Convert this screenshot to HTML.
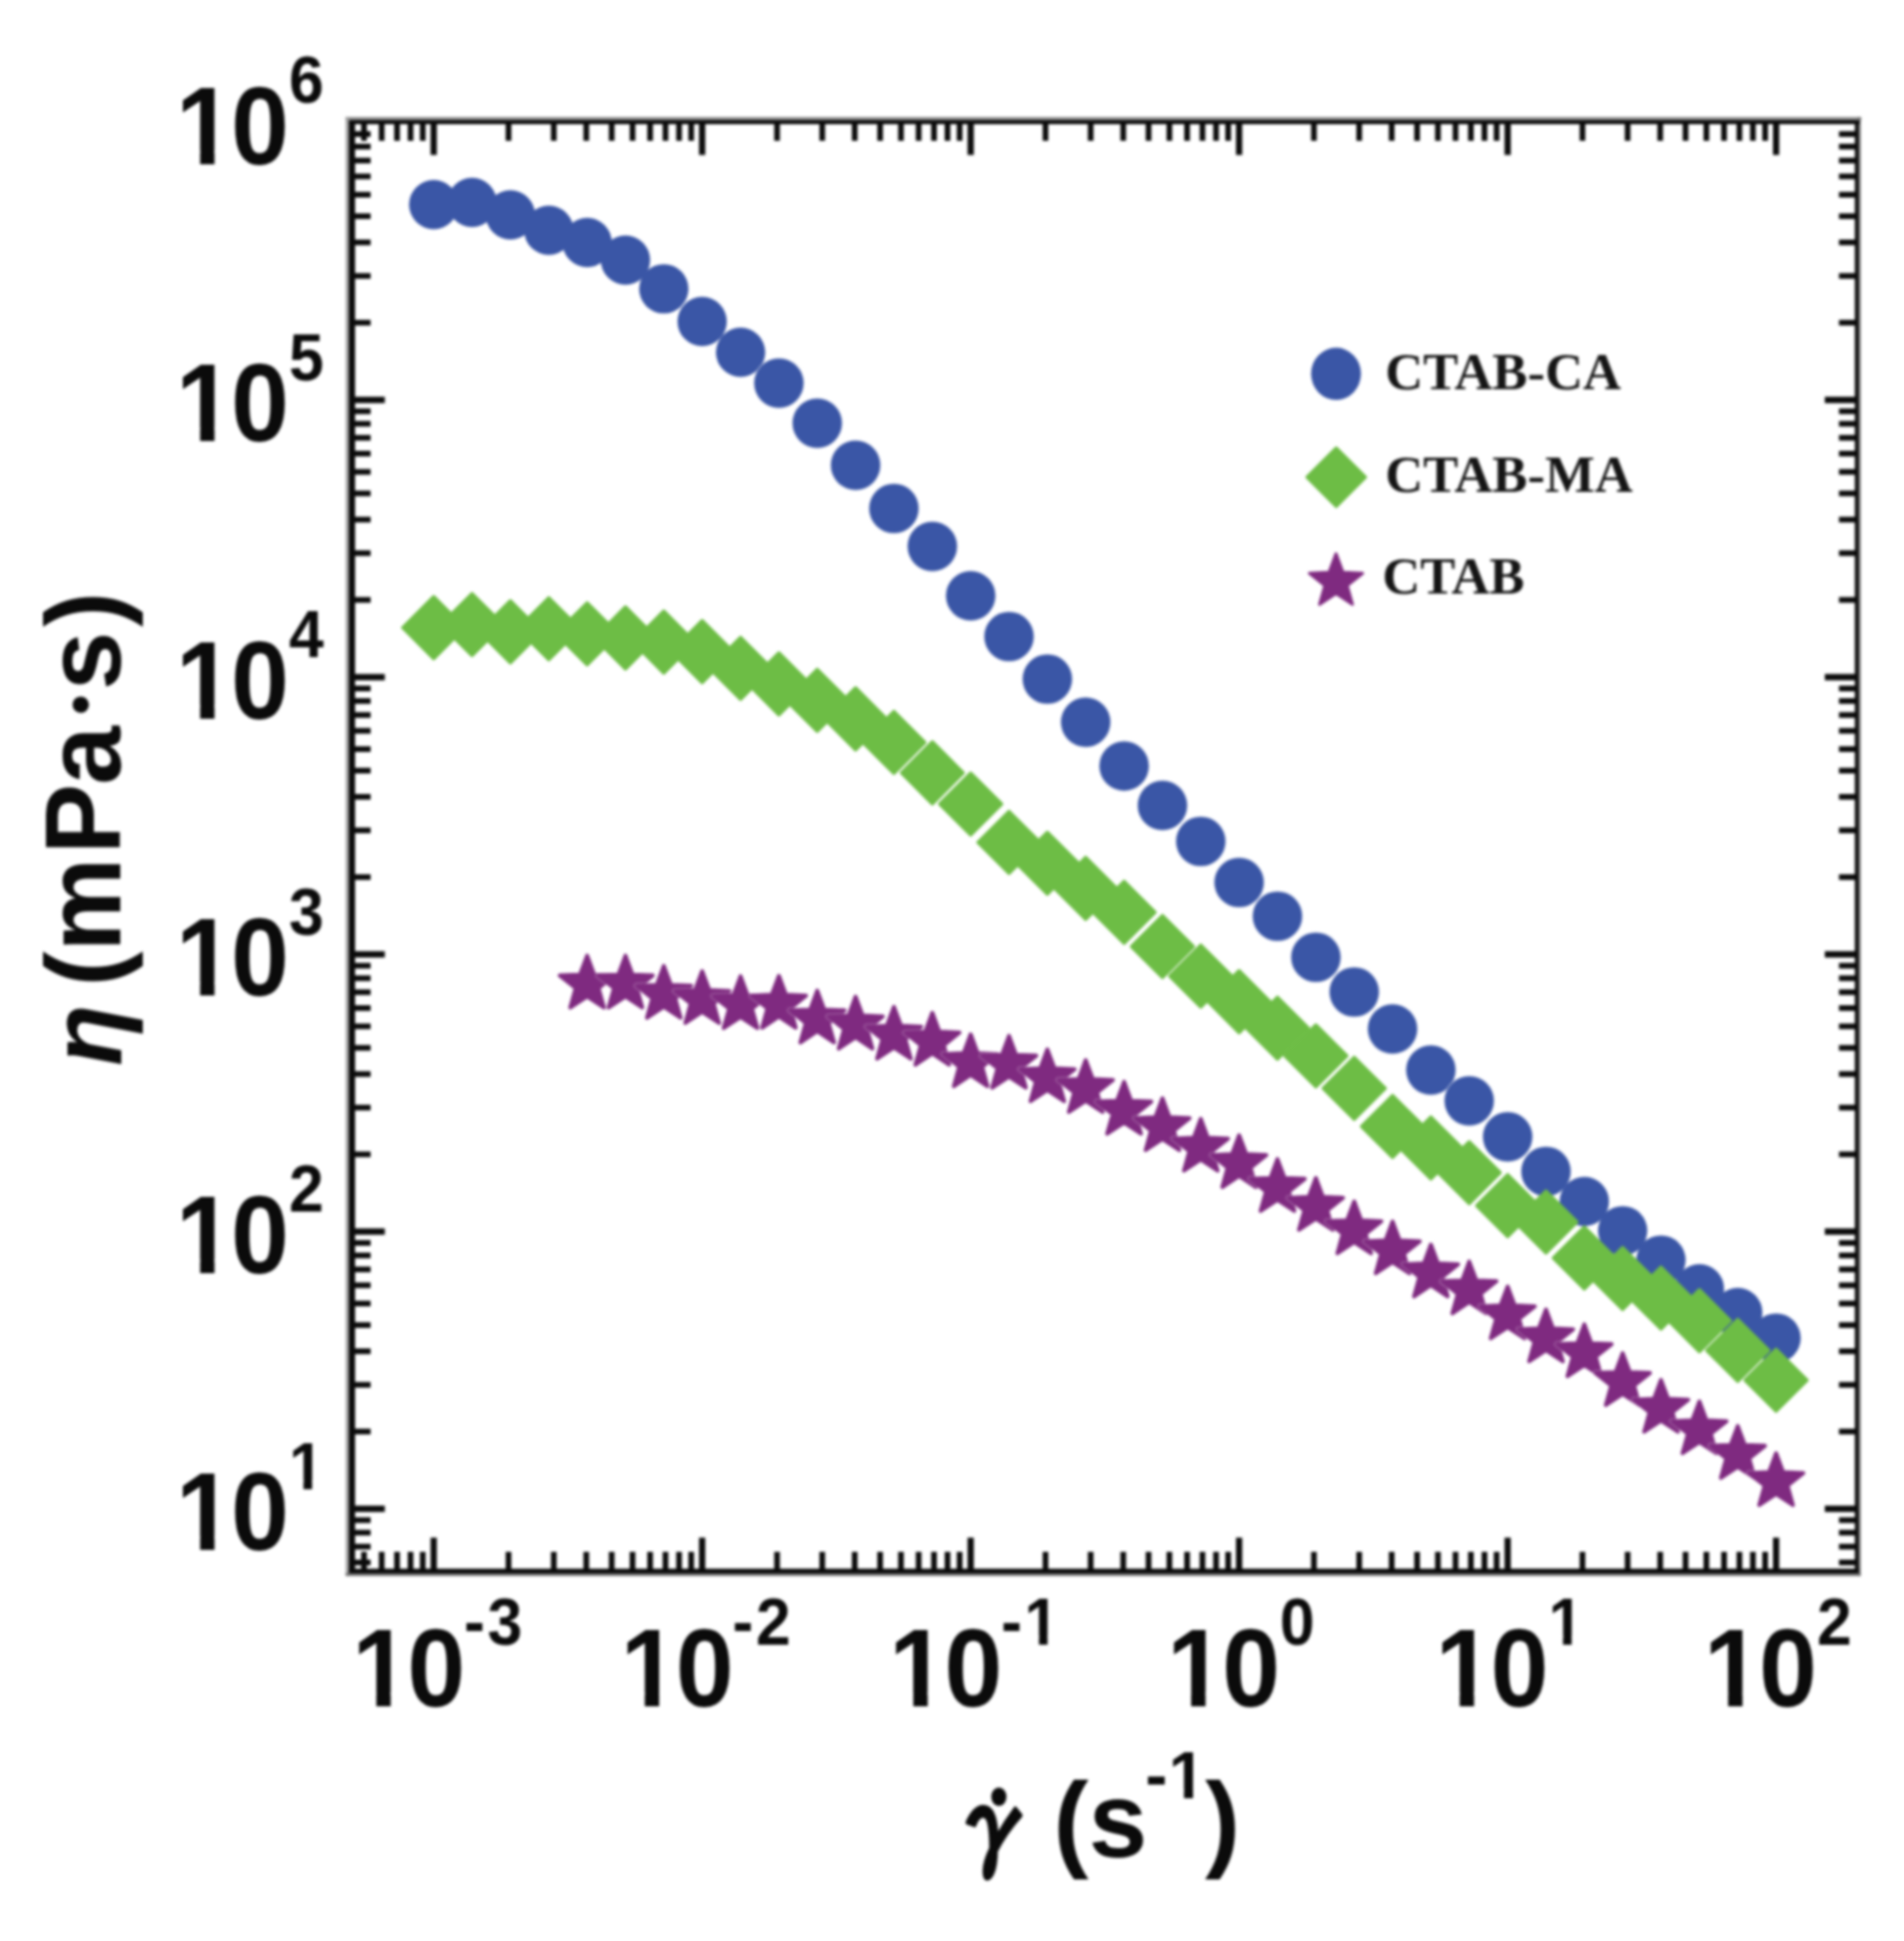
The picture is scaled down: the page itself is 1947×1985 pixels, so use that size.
<!DOCTYPE html>
<html lang="en"><head><meta charset="utf-8">
<title>Viscosity vs shear rate</title>
<style>
html,body{margin:0;padding:0;background:#fff;}
body{width:1947px;height:1985px;overflow:hidden;}
svg{display:block;}
.tk{font-family:"Liberation Sans",Arial,Helvetica,sans-serif;font-weight:bold;fill:#0b0b0b;}
.it{font-style:italic;}
.dt{font-family:"Liberation Serif","Times New Roman",serif;font-weight:bold;font-style:normal;fill:#0b0b0b;}
.gm{font-family:"IPAGothic","Liberation Sans",sans-serif;fill:#0b0b0b;stroke:#0b0b0b;stroke-linejoin:round;}
.lg{font-family:"Liberation Serif","Times New Roman",Times,serif;font-weight:bold;fill:#151515;}
</style></head><body>
<svg width="1947" height="1985" viewBox="0 0 1947 1985">
<defs>
<filter id="soft" x="-2%" y="-2%" width="104%" height="104%" color-interpolation-filters="sRGB"><feGaussianBlur stdDeviation="1.7"/></filter>
</defs>
<rect width="1947" height="1985" fill="#fff"/>
<g filter="url(#soft)">
<g fill="none" stroke-linecap="butt">
<line x1="353.5" y1="121.4" x2="1903.3" y2="121.4" stroke="#858585" stroke-width="3.4"/>
<line x1="355.2" y1="119.8" x2="355.2" y2="1611.5" stroke="#a0a0a0" stroke-width="3.3"/>
<line x1="1901.4" y1="119.8" x2="1901.4" y2="1611.5" stroke="#707070" stroke-width="2.6"/>
<line x1="353.5" y1="1610.2" x2="1902.7" y2="1610.2" stroke="#707070" stroke-width="3.0"/>
</g>
<g stroke="#0b0b0b" stroke-linecap="butt" fill="none">
<line x1="372.2" y1="1606.0" x2="372.2" y2="1587.0" stroke-width="5.8"/>
<line x1="372.2" y1="125.0" x2="372.2" y2="144.0" stroke-width="5.8"/>
<line x1="390.3" y1="1606.0" x2="390.3" y2="1587.0" stroke-width="5.8"/>
<line x1="390.3" y1="125.0" x2="390.3" y2="144.0" stroke-width="5.8"/>
<line x1="406.0" y1="1606.0" x2="406.0" y2="1587.0" stroke-width="5.8"/>
<line x1="406.0" y1="125.0" x2="406.0" y2="144.0" stroke-width="5.8"/>
<line x1="419.8" y1="1606.0" x2="419.8" y2="1587.0" stroke-width="5.8"/>
<line x1="419.8" y1="125.0" x2="419.8" y2="144.0" stroke-width="5.8"/>
<line x1="432.3" y1="1606.0" x2="432.3" y2="1587.0" stroke-width="5.8"/>
<line x1="432.3" y1="125.0" x2="432.3" y2="144.0" stroke-width="5.8"/>
<line x1="443.5" y1="1606.0" x2="443.5" y2="1572.5" stroke-width="6.4"/>
<line x1="443.5" y1="125.0" x2="443.5" y2="158.5" stroke-width="6.4"/>
<line x1="520.0" y1="1606.0" x2="520.0" y2="1587.0" stroke-width="5.8"/>
<line x1="520.0" y1="125.0" x2="520.0" y2="144.0" stroke-width="5.8"/>
<line x1="566.3" y1="1606.0" x2="566.3" y2="1587.0" stroke-width="5.8"/>
<line x1="566.3" y1="125.0" x2="566.3" y2="144.0" stroke-width="5.8"/>
<line x1="599.5" y1="1606.0" x2="599.5" y2="1587.0" stroke-width="5.8"/>
<line x1="599.5" y1="125.0" x2="599.5" y2="144.0" stroke-width="5.8"/>
<line x1="625.5" y1="1606.0" x2="625.5" y2="1587.0" stroke-width="5.8"/>
<line x1="625.5" y1="125.0" x2="625.5" y2="144.0" stroke-width="5.8"/>
<line x1="646.8" y1="1606.0" x2="646.8" y2="1587.0" stroke-width="5.8"/>
<line x1="646.8" y1="125.0" x2="646.8" y2="144.0" stroke-width="5.8"/>
<line x1="664.8" y1="1606.0" x2="664.8" y2="1587.0" stroke-width="5.8"/>
<line x1="664.8" y1="125.0" x2="664.8" y2="144.0" stroke-width="5.8"/>
<line x1="680.5" y1="1606.0" x2="680.5" y2="1587.0" stroke-width="5.8"/>
<line x1="680.5" y1="125.0" x2="680.5" y2="144.0" stroke-width="5.8"/>
<line x1="694.4" y1="1606.0" x2="694.4" y2="1587.0" stroke-width="5.8"/>
<line x1="694.4" y1="125.0" x2="694.4" y2="144.0" stroke-width="5.8"/>
<line x1="706.8" y1="1606.0" x2="706.8" y2="1587.0" stroke-width="5.8"/>
<line x1="706.8" y1="125.0" x2="706.8" y2="144.0" stroke-width="5.8"/>
<line x1="718.0" y1="1606.0" x2="718.0" y2="1572.5" stroke-width="6.4"/>
<line x1="718.0" y1="125.0" x2="718.0" y2="158.5" stroke-width="6.4"/>
<line x1="794.6" y1="1606.0" x2="794.6" y2="1587.0" stroke-width="5.8"/>
<line x1="794.6" y1="125.0" x2="794.6" y2="144.0" stroke-width="5.8"/>
<line x1="840.8" y1="1606.0" x2="840.8" y2="1587.0" stroke-width="5.8"/>
<line x1="840.8" y1="125.0" x2="840.8" y2="144.0" stroke-width="5.8"/>
<line x1="874.0" y1="1606.0" x2="874.0" y2="1587.0" stroke-width="5.8"/>
<line x1="874.0" y1="125.0" x2="874.0" y2="144.0" stroke-width="5.8"/>
<line x1="900.0" y1="1606.0" x2="900.0" y2="1587.0" stroke-width="5.8"/>
<line x1="900.0" y1="125.0" x2="900.0" y2="144.0" stroke-width="5.8"/>
<line x1="921.3" y1="1606.0" x2="921.3" y2="1587.0" stroke-width="5.8"/>
<line x1="921.3" y1="125.0" x2="921.3" y2="144.0" stroke-width="5.8"/>
<line x1="939.4" y1="1606.0" x2="939.4" y2="1587.0" stroke-width="5.8"/>
<line x1="939.4" y1="125.0" x2="939.4" y2="144.0" stroke-width="5.8"/>
<line x1="955.1" y1="1606.0" x2="955.1" y2="1587.0" stroke-width="5.8"/>
<line x1="955.1" y1="125.0" x2="955.1" y2="144.0" stroke-width="5.8"/>
<line x1="968.9" y1="1606.0" x2="968.9" y2="1587.0" stroke-width="5.8"/>
<line x1="968.9" y1="125.0" x2="968.9" y2="144.0" stroke-width="5.8"/>
<line x1="981.3" y1="1606.0" x2="981.3" y2="1587.0" stroke-width="5.8"/>
<line x1="981.3" y1="125.0" x2="981.3" y2="144.0" stroke-width="5.8"/>
<line x1="992.6" y1="1606.0" x2="992.6" y2="1572.5" stroke-width="6.4"/>
<line x1="992.6" y1="125.0" x2="992.6" y2="158.5" stroke-width="6.4"/>
<line x1="1069.1" y1="1606.0" x2="1069.1" y2="1587.0" stroke-width="5.8"/>
<line x1="1069.1" y1="125.0" x2="1069.1" y2="144.0" stroke-width="5.8"/>
<line x1="1115.3" y1="1606.0" x2="1115.3" y2="1587.0" stroke-width="5.8"/>
<line x1="1115.3" y1="125.0" x2="1115.3" y2="144.0" stroke-width="5.8"/>
<line x1="1148.6" y1="1606.0" x2="1148.6" y2="1587.0" stroke-width="5.8"/>
<line x1="1148.6" y1="125.0" x2="1148.6" y2="144.0" stroke-width="5.8"/>
<line x1="1174.5" y1="1606.0" x2="1174.5" y2="1587.0" stroke-width="5.8"/>
<line x1="1174.5" y1="125.0" x2="1174.5" y2="144.0" stroke-width="5.8"/>
<line x1="1195.8" y1="1606.0" x2="1195.8" y2="1587.0" stroke-width="5.8"/>
<line x1="1195.8" y1="125.0" x2="1195.8" y2="144.0" stroke-width="5.8"/>
<line x1="1213.9" y1="1606.0" x2="1213.9" y2="1587.0" stroke-width="5.8"/>
<line x1="1213.9" y1="125.0" x2="1213.9" y2="144.0" stroke-width="5.8"/>
<line x1="1229.6" y1="1606.0" x2="1229.6" y2="1587.0" stroke-width="5.8"/>
<line x1="1229.6" y1="125.0" x2="1229.6" y2="144.0" stroke-width="5.8"/>
<line x1="1243.5" y1="1606.0" x2="1243.5" y2="1587.0" stroke-width="5.8"/>
<line x1="1243.5" y1="125.0" x2="1243.5" y2="144.0" stroke-width="5.8"/>
<line x1="1255.9" y1="1606.0" x2="1255.9" y2="1587.0" stroke-width="5.8"/>
<line x1="1255.9" y1="125.0" x2="1255.9" y2="144.0" stroke-width="5.8"/>
<line x1="1267.1" y1="1606.0" x2="1267.1" y2="1572.5" stroke-width="6.4"/>
<line x1="1267.1" y1="125.0" x2="1267.1" y2="158.5" stroke-width="6.4"/>
<line x1="1343.6" y1="1606.0" x2="1343.6" y2="1587.0" stroke-width="5.8"/>
<line x1="1343.6" y1="125.0" x2="1343.6" y2="144.0" stroke-width="5.8"/>
<line x1="1389.9" y1="1606.0" x2="1389.9" y2="1587.0" stroke-width="5.8"/>
<line x1="1389.9" y1="125.0" x2="1389.9" y2="144.0" stroke-width="5.8"/>
<line x1="1423.1" y1="1606.0" x2="1423.1" y2="1587.0" stroke-width="5.8"/>
<line x1="1423.1" y1="125.0" x2="1423.1" y2="144.0" stroke-width="5.8"/>
<line x1="1449.1" y1="1606.0" x2="1449.1" y2="1587.0" stroke-width="5.8"/>
<line x1="1449.1" y1="125.0" x2="1449.1" y2="144.0" stroke-width="5.8"/>
<line x1="1470.4" y1="1606.0" x2="1470.4" y2="1587.0" stroke-width="5.8"/>
<line x1="1470.4" y1="125.0" x2="1470.4" y2="144.0" stroke-width="5.8"/>
<line x1="1488.4" y1="1606.0" x2="1488.4" y2="1587.0" stroke-width="5.8"/>
<line x1="1488.4" y1="125.0" x2="1488.4" y2="144.0" stroke-width="5.8"/>
<line x1="1504.1" y1="1606.0" x2="1504.1" y2="1587.0" stroke-width="5.8"/>
<line x1="1504.1" y1="125.0" x2="1504.1" y2="144.0" stroke-width="5.8"/>
<line x1="1518.0" y1="1606.0" x2="1518.0" y2="1587.0" stroke-width="5.8"/>
<line x1="1518.0" y1="125.0" x2="1518.0" y2="144.0" stroke-width="5.8"/>
<line x1="1530.4" y1="1606.0" x2="1530.4" y2="1587.0" stroke-width="5.8"/>
<line x1="1530.4" y1="125.0" x2="1530.4" y2="144.0" stroke-width="5.8"/>
<line x1="1541.7" y1="1606.0" x2="1541.7" y2="1572.5" stroke-width="6.4"/>
<line x1="1541.7" y1="125.0" x2="1541.7" y2="158.5" stroke-width="6.4"/>
<line x1="1618.2" y1="1606.0" x2="1618.2" y2="1587.0" stroke-width="5.8"/>
<line x1="1618.2" y1="125.0" x2="1618.2" y2="144.0" stroke-width="5.8"/>
<line x1="1664.4" y1="1606.0" x2="1664.4" y2="1587.0" stroke-width="5.8"/>
<line x1="1664.4" y1="125.0" x2="1664.4" y2="144.0" stroke-width="5.8"/>
<line x1="1697.7" y1="1606.0" x2="1697.7" y2="1587.0" stroke-width="5.8"/>
<line x1="1697.7" y1="125.0" x2="1697.7" y2="144.0" stroke-width="5.8"/>
<line x1="1723.6" y1="1606.0" x2="1723.6" y2="1587.0" stroke-width="5.8"/>
<line x1="1723.6" y1="125.0" x2="1723.6" y2="144.0" stroke-width="5.8"/>
<line x1="1744.9" y1="1606.0" x2="1744.9" y2="1587.0" stroke-width="5.8"/>
<line x1="1744.9" y1="125.0" x2="1744.9" y2="144.0" stroke-width="5.8"/>
<line x1="1763.0" y1="1606.0" x2="1763.0" y2="1587.0" stroke-width="5.8"/>
<line x1="1763.0" y1="125.0" x2="1763.0" y2="144.0" stroke-width="5.8"/>
<line x1="1778.7" y1="1606.0" x2="1778.7" y2="1587.0" stroke-width="5.8"/>
<line x1="1778.7" y1="125.0" x2="1778.7" y2="144.0" stroke-width="5.8"/>
<line x1="1792.5" y1="1606.0" x2="1792.5" y2="1587.0" stroke-width="5.8"/>
<line x1="1792.5" y1="125.0" x2="1792.5" y2="144.0" stroke-width="5.8"/>
<line x1="1805.0" y1="1606.0" x2="1805.0" y2="1587.0" stroke-width="5.8"/>
<line x1="1805.0" y1="125.0" x2="1805.0" y2="144.0" stroke-width="5.8"/>
<line x1="1816.2" y1="1606.0" x2="1816.2" y2="1572.5" stroke-width="6.4"/>
<line x1="1816.2" y1="125.0" x2="1816.2" y2="158.5" stroke-width="6.4"/>
<line x1="360.0" y1="1597.9" x2="379.0" y2="1597.9" stroke-width="5.8"/>
<line x1="1899.5" y1="1597.9" x2="1880.5" y2="1597.9" stroke-width="5.8"/>
<line x1="360.0" y1="1581.7" x2="379.0" y2="1581.7" stroke-width="5.8"/>
<line x1="1899.5" y1="1581.7" x2="1880.5" y2="1581.7" stroke-width="5.8"/>
<line x1="360.0" y1="1567.4" x2="379.0" y2="1567.4" stroke-width="5.8"/>
<line x1="1899.5" y1="1567.4" x2="1880.5" y2="1567.4" stroke-width="5.8"/>
<line x1="360.0" y1="1554.6" x2="379.0" y2="1554.6" stroke-width="5.8"/>
<line x1="1899.5" y1="1554.6" x2="1880.5" y2="1554.6" stroke-width="5.8"/>
<line x1="360.0" y1="1543.0" x2="393.5" y2="1543.0" stroke-width="6.4"/>
<line x1="1899.5" y1="1543.0" x2="1866.0" y2="1543.0" stroke-width="6.4"/>
<line x1="360.0" y1="1464.0" x2="379.0" y2="1464.0" stroke-width="5.8"/>
<line x1="1899.5" y1="1464.0" x2="1880.5" y2="1464.0" stroke-width="5.8"/>
<line x1="360.0" y1="1416.2" x2="379.0" y2="1416.2" stroke-width="5.8"/>
<line x1="1899.5" y1="1416.2" x2="1880.5" y2="1416.2" stroke-width="5.8"/>
<line x1="360.0" y1="1381.9" x2="379.0" y2="1381.9" stroke-width="5.8"/>
<line x1="1899.5" y1="1381.9" x2="1880.5" y2="1381.9" stroke-width="5.8"/>
<line x1="360.0" y1="1355.1" x2="379.0" y2="1355.1" stroke-width="5.8"/>
<line x1="1899.5" y1="1355.1" x2="1880.5" y2="1355.1" stroke-width="5.8"/>
<line x1="360.0" y1="1333.1" x2="379.0" y2="1333.1" stroke-width="5.8"/>
<line x1="1899.5" y1="1333.1" x2="1880.5" y2="1333.1" stroke-width="5.8"/>
<line x1="360.0" y1="1314.4" x2="379.0" y2="1314.4" stroke-width="5.8"/>
<line x1="1899.5" y1="1314.4" x2="1880.5" y2="1314.4" stroke-width="5.8"/>
<line x1="360.0" y1="1298.2" x2="379.0" y2="1298.2" stroke-width="5.8"/>
<line x1="1899.5" y1="1298.2" x2="1880.5" y2="1298.2" stroke-width="5.8"/>
<line x1="360.0" y1="1283.9" x2="379.0" y2="1283.9" stroke-width="5.8"/>
<line x1="1899.5" y1="1283.9" x2="1880.5" y2="1283.9" stroke-width="5.8"/>
<line x1="360.0" y1="1271.1" x2="379.0" y2="1271.1" stroke-width="5.8"/>
<line x1="1899.5" y1="1271.1" x2="1880.5" y2="1271.1" stroke-width="5.8"/>
<line x1="360.0" y1="1259.5" x2="393.5" y2="1259.5" stroke-width="6.4"/>
<line x1="1899.5" y1="1259.5" x2="1866.0" y2="1259.5" stroke-width="6.4"/>
<line x1="360.0" y1="1180.5" x2="379.0" y2="1180.5" stroke-width="5.8"/>
<line x1="1899.5" y1="1180.5" x2="1880.5" y2="1180.5" stroke-width="5.8"/>
<line x1="360.0" y1="1132.7" x2="379.0" y2="1132.7" stroke-width="5.8"/>
<line x1="1899.5" y1="1132.7" x2="1880.5" y2="1132.7" stroke-width="5.8"/>
<line x1="360.0" y1="1098.4" x2="379.0" y2="1098.4" stroke-width="5.8"/>
<line x1="1899.5" y1="1098.4" x2="1880.5" y2="1098.4" stroke-width="5.8"/>
<line x1="360.0" y1="1071.6" x2="379.0" y2="1071.6" stroke-width="5.8"/>
<line x1="1899.5" y1="1071.6" x2="1880.5" y2="1071.6" stroke-width="5.8"/>
<line x1="360.0" y1="1049.6" x2="379.0" y2="1049.6" stroke-width="5.8"/>
<line x1="1899.5" y1="1049.6" x2="1880.5" y2="1049.6" stroke-width="5.8"/>
<line x1="360.0" y1="1030.9" x2="379.0" y2="1030.9" stroke-width="5.8"/>
<line x1="1899.5" y1="1030.9" x2="1880.5" y2="1030.9" stroke-width="5.8"/>
<line x1="360.0" y1="1014.7" x2="379.0" y2="1014.7" stroke-width="5.8"/>
<line x1="1899.5" y1="1014.7" x2="1880.5" y2="1014.7" stroke-width="5.8"/>
<line x1="360.0" y1="1000.4" x2="379.0" y2="1000.4" stroke-width="5.8"/>
<line x1="1899.5" y1="1000.4" x2="1880.5" y2="1000.4" stroke-width="5.8"/>
<line x1="360.0" y1="987.6" x2="379.0" y2="987.6" stroke-width="5.8"/>
<line x1="1899.5" y1="987.6" x2="1880.5" y2="987.6" stroke-width="5.8"/>
<line x1="360.0" y1="976.0" x2="393.5" y2="976.0" stroke-width="6.4"/>
<line x1="1899.5" y1="976.0" x2="1866.0" y2="976.0" stroke-width="6.4"/>
<line x1="360.0" y1="897.0" x2="379.0" y2="897.0" stroke-width="5.8"/>
<line x1="1899.5" y1="897.0" x2="1880.5" y2="897.0" stroke-width="5.8"/>
<line x1="360.0" y1="849.2" x2="379.0" y2="849.2" stroke-width="5.8"/>
<line x1="1899.5" y1="849.2" x2="1880.5" y2="849.2" stroke-width="5.8"/>
<line x1="360.0" y1="814.9" x2="379.0" y2="814.9" stroke-width="5.8"/>
<line x1="1899.5" y1="814.9" x2="1880.5" y2="814.9" stroke-width="5.8"/>
<line x1="360.0" y1="788.1" x2="379.0" y2="788.1" stroke-width="5.8"/>
<line x1="1899.5" y1="788.1" x2="1880.5" y2="788.1" stroke-width="5.8"/>
<line x1="360.0" y1="766.1" x2="379.0" y2="766.1" stroke-width="5.8"/>
<line x1="1899.5" y1="766.1" x2="1880.5" y2="766.1" stroke-width="5.8"/>
<line x1="360.0" y1="747.4" x2="379.0" y2="747.4" stroke-width="5.8"/>
<line x1="1899.5" y1="747.4" x2="1880.5" y2="747.4" stroke-width="5.8"/>
<line x1="360.0" y1="731.2" x2="379.0" y2="731.2" stroke-width="5.8"/>
<line x1="1899.5" y1="731.2" x2="1880.5" y2="731.2" stroke-width="5.8"/>
<line x1="360.0" y1="716.9" x2="379.0" y2="716.9" stroke-width="5.8"/>
<line x1="1899.5" y1="716.9" x2="1880.5" y2="716.9" stroke-width="5.8"/>
<line x1="360.0" y1="704.1" x2="379.0" y2="704.1" stroke-width="5.8"/>
<line x1="1899.5" y1="704.1" x2="1880.5" y2="704.1" stroke-width="5.8"/>
<line x1="360.0" y1="692.5" x2="393.5" y2="692.5" stroke-width="6.4"/>
<line x1="1899.5" y1="692.5" x2="1866.0" y2="692.5" stroke-width="6.4"/>
<line x1="360.0" y1="613.5" x2="379.0" y2="613.5" stroke-width="5.8"/>
<line x1="1899.5" y1="613.5" x2="1880.5" y2="613.5" stroke-width="5.8"/>
<line x1="360.0" y1="565.7" x2="379.0" y2="565.7" stroke-width="5.8"/>
<line x1="1899.5" y1="565.7" x2="1880.5" y2="565.7" stroke-width="5.8"/>
<line x1="360.0" y1="531.4" x2="379.0" y2="531.4" stroke-width="5.8"/>
<line x1="1899.5" y1="531.4" x2="1880.5" y2="531.4" stroke-width="5.8"/>
<line x1="360.0" y1="504.6" x2="379.0" y2="504.6" stroke-width="5.8"/>
<line x1="1899.5" y1="504.6" x2="1880.5" y2="504.6" stroke-width="5.8"/>
<line x1="360.0" y1="482.6" x2="379.0" y2="482.6" stroke-width="5.8"/>
<line x1="1899.5" y1="482.6" x2="1880.5" y2="482.6" stroke-width="5.8"/>
<line x1="360.0" y1="463.9" x2="379.0" y2="463.9" stroke-width="5.8"/>
<line x1="1899.5" y1="463.9" x2="1880.5" y2="463.9" stroke-width="5.8"/>
<line x1="360.0" y1="447.7" x2="379.0" y2="447.7" stroke-width="5.8"/>
<line x1="1899.5" y1="447.7" x2="1880.5" y2="447.7" stroke-width="5.8"/>
<line x1="360.0" y1="433.4" x2="379.0" y2="433.4" stroke-width="5.8"/>
<line x1="1899.5" y1="433.4" x2="1880.5" y2="433.4" stroke-width="5.8"/>
<line x1="360.0" y1="420.6" x2="379.0" y2="420.6" stroke-width="5.8"/>
<line x1="1899.5" y1="420.6" x2="1880.5" y2="420.6" stroke-width="5.8"/>
<line x1="360.0" y1="409.0" x2="393.5" y2="409.0" stroke-width="6.4"/>
<line x1="1899.5" y1="409.0" x2="1866.0" y2="409.0" stroke-width="6.4"/>
<line x1="360.0" y1="330.0" x2="379.0" y2="330.0" stroke-width="5.8"/>
<line x1="1899.5" y1="330.0" x2="1880.5" y2="330.0" stroke-width="5.8"/>
<line x1="360.0" y1="282.2" x2="379.0" y2="282.2" stroke-width="5.8"/>
<line x1="1899.5" y1="282.2" x2="1880.5" y2="282.2" stroke-width="5.8"/>
<line x1="360.0" y1="247.9" x2="379.0" y2="247.9" stroke-width="5.8"/>
<line x1="1899.5" y1="247.9" x2="1880.5" y2="247.9" stroke-width="5.8"/>
<line x1="360.0" y1="221.1" x2="379.0" y2="221.1" stroke-width="5.8"/>
<line x1="1899.5" y1="221.1" x2="1880.5" y2="221.1" stroke-width="5.8"/>
<line x1="360.0" y1="199.1" x2="379.0" y2="199.1" stroke-width="5.8"/>
<line x1="1899.5" y1="199.1" x2="1880.5" y2="199.1" stroke-width="5.8"/>
<line x1="360.0" y1="180.4" x2="379.0" y2="180.4" stroke-width="5.8"/>
<line x1="1899.5" y1="180.4" x2="1880.5" y2="180.4" stroke-width="5.8"/>
<line x1="360.0" y1="164.2" x2="379.0" y2="164.2" stroke-width="5.8"/>
<line x1="1899.5" y1="164.2" x2="1880.5" y2="164.2" stroke-width="5.8"/>
<line x1="360.0" y1="149.9" x2="379.0" y2="149.9" stroke-width="5.8"/>
<line x1="1899.5" y1="149.9" x2="1880.5" y2="149.9" stroke-width="5.8"/>
<line x1="360.0" y1="137.1" x2="379.0" y2="137.1" stroke-width="5.8"/>
<line x1="1899.5" y1="137.1" x2="1880.5" y2="137.1" stroke-width="5.8"/>
</g>
<g fill="none" stroke-linecap="butt">
<line x1="356.9" y1="125.0" x2="1901.4" y2="125.0" stroke="#0b0b0b" stroke-width="4.0"/>
<line x1="359.95" y1="123.0" x2="359.95" y2="1608.9" stroke="#0b0b0b" stroke-width="6.3"/>
<line x1="1898.6" y1="123.0" x2="1898.6" y2="1608.9" stroke="#0b0b0b" stroke-width="3.8"/>
<line x1="356.9" y1="1606.6" x2="1900.5" y2="1606.6" stroke="#0b0b0b" stroke-width="4.6"/>
</g>
<g fill="#3a56a6">
<ellipse cx="443.5" cy="209.2" rx="25.2" ry="25.2"/>
<ellipse cx="482.7" cy="207.0" rx="25.2" ry="25.2"/>
<ellipse cx="521.9" cy="219.7" rx="25.2" ry="25.2"/>
<ellipse cx="561.2" cy="235.5" rx="25.2" ry="25.2"/>
<ellipse cx="600.4" cy="248.0" rx="25.2" ry="25.2"/>
<ellipse cx="639.6" cy="266.0" rx="25.2" ry="25.2"/>
<ellipse cx="678.8" cy="295.4" rx="25.2" ry="25.2"/>
<ellipse cx="718.0" cy="328.8" rx="25.2" ry="25.2"/>
<ellipse cx="757.3" cy="360.3" rx="25.2" ry="25.2"/>
<ellipse cx="796.5" cy="391.8" rx="25.6" ry="25.6" stroke="#fff" stroke-opacity="0.5" stroke-width="1.2"/>
<ellipse cx="835.7" cy="432.8" rx="25.6" ry="25.6" stroke="#fff" stroke-opacity="0.5" stroke-width="1.2"/>
<ellipse cx="874.9" cy="475.8" rx="25.6" ry="25.6" stroke="#fff" stroke-opacity="0.5" stroke-width="1.2"/>
<ellipse cx="914.1" cy="520.0" rx="25.6" ry="25.6" stroke="#fff" stroke-opacity="0.5" stroke-width="1.2"/>
<ellipse cx="953.4" cy="558.8" rx="25.6" ry="25.6" stroke="#fff" stroke-opacity="0.5" stroke-width="1.2"/>
<ellipse cx="992.6" cy="609.3" rx="25.6" ry="25.6" stroke="#fff" stroke-opacity="0.5" stroke-width="1.2"/>
<ellipse cx="1031.8" cy="651.0" rx="25.6" ry="25.6" stroke="#fff" stroke-opacity="0.5" stroke-width="1.2"/>
<ellipse cx="1071.0" cy="694.5" rx="25.6" ry="25.6" stroke="#fff" stroke-opacity="0.5" stroke-width="1.2"/>
<ellipse cx="1110.2" cy="738.6" rx="25.6" ry="25.6" stroke="#fff" stroke-opacity="0.5" stroke-width="1.2"/>
<ellipse cx="1149.5" cy="783.4" rx="25.6" ry="25.6" stroke="#fff" stroke-opacity="0.5" stroke-width="1.2"/>
<ellipse cx="1188.7" cy="823.7" rx="25.6" ry="25.6" stroke="#fff" stroke-opacity="0.5" stroke-width="1.2"/>
<ellipse cx="1227.9" cy="860.5" rx="25.6" ry="25.6" stroke="#fff" stroke-opacity="0.5" stroke-width="1.2"/>
<ellipse cx="1267.1" cy="902.5" rx="25.6" ry="25.6" stroke="#fff" stroke-opacity="0.5" stroke-width="1.2"/>
<ellipse cx="1306.3" cy="937.0" rx="25.6" ry="25.6" stroke="#fff" stroke-opacity="0.5" stroke-width="1.2"/>
<ellipse cx="1345.6" cy="979.0" rx="25.6" ry="25.6" stroke="#fff" stroke-opacity="0.5" stroke-width="1.2"/>
<ellipse cx="1384.8" cy="1014.5" rx="25.6" ry="25.6" stroke="#fff" stroke-opacity="0.5" stroke-width="1.2"/>
<ellipse cx="1424.0" cy="1052.3" rx="25.6" ry="25.6" stroke="#fff" stroke-opacity="0.5" stroke-width="1.2"/>
<ellipse cx="1463.2" cy="1094.3" rx="25.6" ry="25.6" stroke="#fff" stroke-opacity="0.5" stroke-width="1.2"/>
<ellipse cx="1502.4" cy="1125.8" rx="25.6" ry="25.6" stroke="#fff" stroke-opacity="0.5" stroke-width="1.2"/>
<ellipse cx="1541.7" cy="1162.6" rx="25.6" ry="25.6" stroke="#fff" stroke-opacity="0.5" stroke-width="1.2"/>
<ellipse cx="1580.9" cy="1198.0" rx="25.6" ry="25.6" stroke="#fff" stroke-opacity="0.5" stroke-width="1.2"/>
<ellipse cx="1620.1" cy="1228.7" rx="25.2" ry="25.2"/>
<ellipse cx="1659.3" cy="1258.6" rx="25.2" ry="25.2"/>
<ellipse cx="1698.5" cy="1288.6" rx="25.2" ry="25.2"/>
<ellipse cx="1737.8" cy="1318.0" rx="25.2" ry="25.2"/>
<ellipse cx="1777.0" cy="1342.2" rx="25.2" ry="25.2"/>
<ellipse cx="1816.2" cy="1368.4" rx="25.2" ry="25.2"/>
</g>
<g fill="#6dbd45" stroke="#6dbd45" stroke-width="3.4" stroke-linejoin="round">
<polygon points="443.5,610.3 475.1,641.9 443.5,673.5 411.9,641.9"/>
<polygon points="482.7,607.1 514.3,638.7 482.7,670.3 451.1,638.7"/>
<polygon points="521.9,614.5 553.5,646.1 521.9,677.7 490.3,646.1"/>
<polygon points="561.2,611.4 592.8,643.0 561.2,674.6 529.6,643.0"/>
<polygon points="600.4,616.6 632.0,648.2 600.4,679.8 568.8,648.2"/>
<polygon points="639.6,620.8 671.2,652.4 639.6,684.0 608.0,652.4"/>
<polygon points="678.8,625.0 710.4,656.6 678.8,688.2 647.2,656.6"/>
<polygon points="718.0,634.8 749.6,666.4 718.0,698.0 686.4,666.4"/>
<polygon points="757.3,651.9 788.9,683.5 757.3,715.1 725.7,683.5"/>
<polygon points="796.5,667.8 828.1,699.4 796.5,731.0 764.9,699.4"/>
<polygon points="835.7,684.6 867.3,716.2 835.7,747.8 804.1,716.2"/>
<polygon points="874.9,703.5 906.5,735.1 874.9,766.7 843.3,735.1"/>
<polygon points="914.1,727.6 945.7,759.2 914.1,790.8 882.5,759.2"/>
<polygon points="953.4,758.8 985.0,790.4 953.4,822.0 921.8,790.4"/>
<polygon points="992.6,790.7 1024.2,822.3 992.6,853.9 961.0,822.3"/>
<polygon points="1031.8,829.9 1063.4,861.5 1031.8,893.1 1000.2,861.5"/>
<polygon points="1071.0,851.2 1102.6,882.8 1071.0,914.4 1039.4,882.8"/>
<polygon points="1110.2,876.9 1141.8,908.5 1110.2,940.1 1078.6,908.5"/>
<polygon points="1149.5,901.4 1181.1,933.0 1149.5,964.6 1117.9,933.0"/>
<polygon points="1188.7,936.4 1220.3,968.0 1188.7,999.6 1157.1,968.0"/>
<polygon points="1227.9,966.6 1259.5,998.2 1227.9,1029.8 1196.3,998.2"/>
<polygon points="1267.1,992.8 1298.7,1024.4 1267.1,1056.0 1235.5,1024.4"/>
<polygon points="1306.3,1019.9 1337.9,1051.5 1306.3,1083.1 1274.7,1051.5"/>
<polygon points="1345.6,1048.2 1377.2,1079.8 1345.6,1111.4 1314.0,1079.8"/>
<polygon points="1384.8,1081.4 1416.4,1113.0 1384.8,1144.6 1353.2,1113.0"/>
<polygon points="1424.0,1120.4 1455.6,1152.0 1424.0,1183.6 1392.4,1152.0"/>
<polygon points="1463.2,1142.4 1494.8,1174.0 1463.2,1205.6 1431.6,1174.0"/>
<polygon points="1502.4,1167.7 1534.0,1199.3 1502.4,1230.9 1470.8,1199.3"/>
<polygon points="1541.7,1201.4 1573.3,1233.0 1541.7,1264.6 1510.1,1233.0"/>
<polygon points="1580.9,1218.1 1612.5,1249.7 1580.9,1281.3 1549.3,1249.7"/>
<polygon points="1620.1,1254.9 1651.7,1286.5 1620.1,1318.1 1588.5,1286.5"/>
<polygon points="1659.3,1275.9 1690.9,1307.5 1659.3,1339.1 1627.7,1307.5"/>
<polygon points="1698.5,1295.9 1730.1,1327.5 1698.5,1359.1 1666.9,1327.5"/>
<polygon points="1737.8,1319.0 1769.4,1350.6 1737.8,1382.2 1706.2,1350.6"/>
<polygon points="1777.0,1349.4 1808.6,1381.0 1777.0,1412.6 1745.4,1381.0"/>
<polygon points="1816.2,1379.9 1847.8,1411.5 1816.2,1443.1 1784.6,1411.5"/>
</g>
<g stroke-linejoin="round">
<polygon points="600.4,977.4 607.6,996.7 628.2,997.6 612.1,1010.5 617.6,1030.4 600.4,1019.0 583.2,1030.4 588.7,1010.5 572.5,997.6 593.1,996.7" fill="none" stroke="#fff" stroke-opacity="0.3" stroke-width="6.0"/>
<polygon points="600.4,977.4 607.6,996.7 628.2,997.6 612.1,1010.5 617.6,1030.4 600.4,1019.0 583.2,1030.4 588.7,1010.5 572.5,997.6 593.1,996.7" fill="#7f2a80" stroke="#7f2a80" stroke-width="4.0"/>
<polygon points="639.6,977.4 646.8,996.7 667.5,997.6 651.3,1010.5 656.8,1030.4 639.6,1019.0 622.4,1030.4 627.9,1010.5 611.7,997.6 632.4,996.7" fill="none" stroke="#fff" stroke-opacity="0.3" stroke-width="6.0"/>
<polygon points="639.6,977.4 646.8,996.7 667.5,997.6 651.3,1010.5 656.8,1030.4 639.6,1019.0 622.4,1030.4 627.9,1010.5 611.7,997.6 632.4,996.7" fill="#7f2a80" stroke="#7f2a80" stroke-width="4.0"/>
<polygon points="678.8,987.9 686.1,1007.2 706.7,1008.1 690.5,1021.0 696.0,1040.9 678.8,1029.5 661.6,1040.9 667.1,1021.0 651.0,1008.1 671.6,1007.2" fill="none" stroke="#fff" stroke-opacity="0.3" stroke-width="6.0"/>
<polygon points="678.8,987.9 686.1,1007.2 706.7,1008.1 690.5,1021.0 696.0,1040.9 678.8,1029.5 661.6,1040.9 667.1,1021.0 651.0,1008.1 671.6,1007.2" fill="#7f2a80" stroke="#7f2a80" stroke-width="4.0"/>
<polygon points="718.0,993.2 725.3,1012.5 745.9,1013.4 729.7,1026.3 735.3,1046.2 718.0,1034.8 700.8,1046.2 706.3,1026.3 690.2,1013.4 710.8,1012.5" fill="none" stroke="#fff" stroke-opacity="0.3" stroke-width="6.0"/>
<polygon points="718.0,993.2 725.3,1012.5 745.9,1013.4 729.7,1026.3 735.3,1046.2 718.0,1034.8 700.8,1046.2 706.3,1026.3 690.2,1013.4 710.8,1012.5" fill="#7f2a80" stroke="#7f2a80" stroke-width="4.0"/>
<polygon points="757.3,998.4 764.5,1017.7 785.1,1018.6 769.0,1031.5 774.5,1051.4 757.3,1040.0 740.0,1051.4 745.6,1031.5 729.4,1018.6 750.0,1017.7" fill="none" stroke="#fff" stroke-opacity="0.3" stroke-width="6.0"/>
<polygon points="757.3,998.4 764.5,1017.7 785.1,1018.6 769.0,1031.5 774.5,1051.4 757.3,1040.0 740.0,1051.4 745.6,1031.5 729.4,1018.6 750.0,1017.7" fill="#7f2a80" stroke="#7f2a80" stroke-width="4.0"/>
<polygon points="796.5,998.0 803.7,1017.3 824.3,1018.2 808.2,1031.1 813.7,1051.0 796.5,1039.6 779.3,1051.0 784.8,1031.1 768.6,1018.2 789.2,1017.3" fill="none" stroke="#fff" stroke-opacity="0.3" stroke-width="6.0"/>
<polygon points="796.5,998.0 803.7,1017.3 824.3,1018.2 808.2,1031.1 813.7,1051.0 796.5,1039.6 779.3,1051.0 784.8,1031.1 768.6,1018.2 789.2,1017.3" fill="#7f2a80" stroke="#7f2a80" stroke-width="4.0"/>
<polygon points="835.7,1013.1 842.9,1032.4 863.6,1033.3 847.4,1046.2 852.9,1066.1 835.7,1054.7 818.5,1066.1 824.0,1046.2 807.8,1033.3 828.5,1032.4" fill="none" stroke="#fff" stroke-opacity="0.3" stroke-width="6.0"/>
<polygon points="835.7,1013.1 842.9,1032.4 863.6,1033.3 847.4,1046.2 852.9,1066.1 835.7,1054.7 818.5,1066.1 824.0,1046.2 807.8,1033.3 828.5,1032.4" fill="#7f2a80" stroke="#7f2a80" stroke-width="4.0"/>
<polygon points="874.9,1019.3 882.2,1038.6 902.8,1039.5 886.6,1052.4 892.1,1072.3 874.9,1060.9 857.7,1072.3 863.2,1052.4 847.1,1039.5 867.7,1038.6" fill="none" stroke="#fff" stroke-opacity="0.3" stroke-width="6.0"/>
<polygon points="874.9,1019.3 882.2,1038.6 902.8,1039.5 886.6,1052.4 892.1,1072.3 874.9,1060.9 857.7,1072.3 863.2,1052.4 847.1,1039.5 867.7,1038.6" fill="#7f2a80" stroke="#7f2a80" stroke-width="4.0"/>
<polygon points="914.1,1029.7 921.4,1049.0 942.0,1049.9 925.8,1062.8 931.4,1082.7 914.1,1071.3 896.9,1082.7 902.4,1062.8 886.3,1049.9 906.9,1049.0" fill="none" stroke="#fff" stroke-opacity="0.3" stroke-width="6.0"/>
<polygon points="914.1,1029.7 921.4,1049.0 942.0,1049.9 925.8,1062.8 931.4,1082.7 914.1,1071.3 896.9,1082.7 902.4,1062.8 886.3,1049.9 906.9,1049.0" fill="#7f2a80" stroke="#7f2a80" stroke-width="4.0"/>
<polygon points="953.4,1035.8 960.6,1055.1 981.2,1056.0 965.1,1068.9 970.6,1088.8 953.4,1077.4 936.1,1088.8 941.7,1068.9 925.5,1056.0 946.1,1055.1" fill="none" stroke="#fff" stroke-opacity="0.3" stroke-width="6.0"/>
<polygon points="953.4,1035.8 960.6,1055.1 981.2,1056.0 965.1,1068.9 970.6,1088.8 953.4,1077.4 936.1,1088.8 941.7,1068.9 925.5,1056.0 946.1,1055.1" fill="#7f2a80" stroke="#7f2a80" stroke-width="4.0"/>
<polygon points="992.6,1057.8 999.8,1077.1 1020.4,1078.0 1004.3,1090.9 1009.8,1110.8 992.6,1099.4 975.4,1110.8 980.9,1090.9 964.7,1078.0 985.3,1077.1" fill="none" stroke="#fff" stroke-opacity="0.3" stroke-width="6.0"/>
<polygon points="992.6,1057.8 999.8,1077.1 1020.4,1078.0 1004.3,1090.9 1009.8,1110.8 992.6,1099.4 975.4,1110.8 980.9,1090.9 964.7,1078.0 985.3,1077.1" fill="#7f2a80" stroke="#7f2a80" stroke-width="4.0"/>
<polygon points="1031.8,1059.4 1039.0,1078.7 1059.7,1079.6 1043.5,1092.5 1049.0,1112.4 1031.8,1101.0 1014.6,1112.4 1020.1,1092.5 1003.9,1079.6 1024.6,1078.7" fill="none" stroke="#fff" stroke-opacity="0.3" stroke-width="6.0"/>
<polygon points="1031.8,1059.4 1039.0,1078.7 1059.7,1079.6 1043.5,1092.5 1049.0,1112.4 1031.8,1101.0 1014.6,1112.4 1020.1,1092.5 1003.9,1079.6 1024.6,1078.7" fill="#7f2a80" stroke="#7f2a80" stroke-width="4.0"/>
<polygon points="1071.0,1073.2 1078.3,1092.5 1098.9,1093.4 1082.7,1106.3 1088.2,1126.2 1071.0,1114.8 1053.8,1126.2 1059.3,1106.3 1043.2,1093.4 1063.8,1092.5" fill="none" stroke="#fff" stroke-opacity="0.3" stroke-width="6.0"/>
<polygon points="1071.0,1073.2 1078.3,1092.5 1098.9,1093.4 1082.7,1106.3 1088.2,1126.2 1071.0,1114.8 1053.8,1126.2 1059.3,1106.3 1043.2,1093.4 1063.8,1092.5" fill="#7f2a80" stroke="#7f2a80" stroke-width="4.0"/>
<polygon points="1110.2,1084.2 1117.5,1103.5 1138.1,1104.4 1121.9,1117.3 1127.5,1137.2 1110.2,1125.8 1093.0,1137.2 1098.5,1117.3 1082.4,1104.4 1103.0,1103.5" fill="none" stroke="#fff" stroke-opacity="0.3" stroke-width="6.0"/>
<polygon points="1110.2,1084.2 1117.5,1103.5 1138.1,1104.4 1121.9,1117.3 1127.5,1137.2 1110.2,1125.8 1093.0,1137.2 1098.5,1117.3 1082.4,1104.4 1103.0,1103.5" fill="#7f2a80" stroke="#7f2a80" stroke-width="4.0"/>
<polygon points="1149.5,1106.4 1156.7,1125.7 1177.3,1126.6 1161.2,1139.5 1166.7,1159.4 1149.5,1148.0 1132.2,1159.4 1137.8,1139.5 1121.6,1126.6 1142.2,1125.7" fill="none" stroke="#fff" stroke-opacity="0.3" stroke-width="6.0"/>
<polygon points="1149.5,1106.4 1156.7,1125.7 1177.3,1126.6 1161.2,1139.5 1166.7,1159.4 1149.5,1148.0 1132.2,1159.4 1137.8,1139.5 1121.6,1126.6 1142.2,1125.7" fill="#7f2a80" stroke="#7f2a80" stroke-width="4.0"/>
<polygon points="1188.7,1123.2 1195.9,1142.5 1216.5,1143.4 1200.4,1156.3 1205.9,1176.2 1188.7,1164.8 1171.5,1176.2 1177.0,1156.3 1160.8,1143.4 1181.4,1142.5" fill="none" stroke="#fff" stroke-opacity="0.3" stroke-width="6.0"/>
<polygon points="1188.7,1123.2 1195.9,1142.5 1216.5,1143.4 1200.4,1156.3 1205.9,1176.2 1188.7,1164.8 1171.5,1176.2 1177.0,1156.3 1160.8,1143.4 1181.4,1142.5" fill="#7f2a80" stroke="#7f2a80" stroke-width="4.0"/>
<polygon points="1227.9,1144.2 1235.1,1163.5 1255.8,1164.4 1239.6,1177.3 1245.1,1197.2 1227.9,1185.8 1210.7,1197.2 1216.2,1177.3 1200.0,1164.4 1220.7,1163.5" fill="none" stroke="#fff" stroke-opacity="0.3" stroke-width="6.0"/>
<polygon points="1227.9,1144.2 1235.1,1163.5 1255.8,1164.4 1239.6,1177.3 1245.1,1197.2 1227.9,1185.8 1210.7,1197.2 1216.2,1177.3 1200.0,1164.4 1220.7,1163.5" fill="#7f2a80" stroke="#7f2a80" stroke-width="4.0"/>
<polygon points="1267.1,1161.0 1274.4,1180.3 1295.0,1181.2 1278.8,1194.1 1284.3,1214.0 1267.1,1202.6 1249.9,1214.0 1255.4,1194.1 1239.3,1181.2 1259.9,1180.3" fill="none" stroke="#fff" stroke-opacity="0.3" stroke-width="6.0"/>
<polygon points="1267.1,1161.0 1274.4,1180.3 1295.0,1181.2 1278.8,1194.1 1284.3,1214.0 1267.1,1202.6 1249.9,1214.0 1255.4,1194.1 1239.3,1181.2 1259.9,1180.3" fill="#7f2a80" stroke="#7f2a80" stroke-width="4.0"/>
<polygon points="1306.3,1185.4 1313.6,1204.7 1334.2,1205.6 1318.0,1218.5 1323.6,1238.4 1306.3,1227.0 1289.1,1238.4 1294.6,1218.5 1278.5,1205.6 1299.1,1204.7" fill="none" stroke="#fff" stroke-opacity="0.3" stroke-width="6.0"/>
<polygon points="1306.3,1185.4 1313.6,1204.7 1334.2,1205.6 1318.0,1218.5 1323.6,1238.4 1306.3,1227.0 1289.1,1238.4 1294.6,1218.5 1278.5,1205.6 1299.1,1204.7" fill="#7f2a80" stroke="#7f2a80" stroke-width="4.0"/>
<polygon points="1345.6,1204.7 1352.8,1224.0 1373.4,1224.9 1357.3,1237.8 1362.8,1257.7 1345.6,1246.3 1328.3,1257.7 1333.9,1237.8 1317.7,1224.9 1338.3,1224.0" fill="none" stroke="#fff" stroke-opacity="0.3" stroke-width="6.0"/>
<polygon points="1345.6,1204.7 1352.8,1224.0 1373.4,1224.9 1357.3,1237.8 1362.8,1257.7 1345.6,1246.3 1328.3,1257.7 1333.9,1237.8 1317.7,1224.9 1338.3,1224.0" fill="#7f2a80" stroke="#7f2a80" stroke-width="4.0"/>
<polygon points="1384.8,1228.7 1392.0,1248.0 1412.6,1248.9 1396.5,1261.8 1402.0,1281.7 1384.8,1270.3 1367.6,1281.7 1373.1,1261.8 1356.9,1248.9 1377.5,1248.0" fill="none" stroke="#fff" stroke-opacity="0.3" stroke-width="6.0"/>
<polygon points="1384.8,1228.7 1392.0,1248.0 1412.6,1248.9 1396.5,1261.8 1402.0,1281.7 1384.8,1270.3 1367.6,1281.7 1373.1,1261.8 1356.9,1248.9 1377.5,1248.0" fill="#7f2a80" stroke="#7f2a80" stroke-width="4.0"/>
<polygon points="1424.0,1249.2 1431.2,1268.5 1451.9,1269.4 1435.7,1282.3 1441.2,1302.2 1424.0,1290.8 1406.8,1302.2 1412.3,1282.3 1396.1,1269.4 1416.8,1268.5" fill="none" stroke="#fff" stroke-opacity="0.3" stroke-width="6.0"/>
<polygon points="1424.0,1249.2 1431.2,1268.5 1451.9,1269.4 1435.7,1282.3 1441.2,1302.2 1424.0,1290.8 1406.8,1302.2 1412.3,1282.3 1396.1,1269.4 1416.8,1268.5" fill="#7f2a80" stroke="#7f2a80" stroke-width="4.0"/>
<polygon points="1463.2,1272.8 1470.5,1292.1 1491.1,1293.0 1474.9,1305.9 1480.4,1325.8 1463.2,1314.4 1446.0,1325.8 1451.5,1305.9 1435.4,1293.0 1456.0,1292.1" fill="none" stroke="#fff" stroke-opacity="0.3" stroke-width="6.0"/>
<polygon points="1463.2,1272.8 1470.5,1292.1 1491.1,1293.0 1474.9,1305.9 1480.4,1325.8 1463.2,1314.4 1446.0,1325.8 1451.5,1305.9 1435.4,1293.0 1456.0,1292.1" fill="#7f2a80" stroke="#7f2a80" stroke-width="4.0"/>
<polygon points="1502.4,1290.1 1509.7,1309.4 1530.3,1310.3 1514.1,1323.2 1519.7,1343.1 1502.4,1331.7 1485.2,1343.1 1490.7,1323.2 1474.6,1310.3 1495.2,1309.4" fill="none" stroke="#fff" stroke-opacity="0.3" stroke-width="6.0"/>
<polygon points="1502.4,1290.1 1509.7,1309.4 1530.3,1310.3 1514.1,1323.2 1519.7,1343.1 1502.4,1331.7 1485.2,1343.1 1490.7,1323.2 1474.6,1310.3 1495.2,1309.4" fill="#7f2a80" stroke="#7f2a80" stroke-width="4.0"/>
<polygon points="1541.7,1315.7 1548.9,1335.0 1569.5,1335.9 1553.4,1348.8 1558.9,1368.7 1541.7,1357.3 1524.4,1368.7 1530.0,1348.8 1513.8,1335.9 1534.4,1335.0" fill="none" stroke="#fff" stroke-opacity="0.3" stroke-width="6.0"/>
<polygon points="1541.7,1315.7 1548.9,1335.0 1569.5,1335.9 1553.4,1348.8 1558.9,1368.7 1541.7,1357.3 1524.4,1368.7 1530.0,1348.8 1513.8,1335.9 1534.4,1335.0" fill="#7f2a80" stroke="#7f2a80" stroke-width="4.0"/>
<polygon points="1580.9,1339.2 1588.1,1358.5 1608.7,1359.4 1592.6,1372.3 1598.1,1392.2 1580.9,1380.8 1563.7,1392.2 1569.2,1372.3 1553.0,1359.4 1573.6,1358.5" fill="none" stroke="#fff" stroke-opacity="0.3" stroke-width="6.0"/>
<polygon points="1580.9,1339.2 1588.1,1358.5 1608.7,1359.4 1592.6,1372.3 1598.1,1392.2 1580.9,1380.8 1563.7,1392.2 1569.2,1372.3 1553.0,1359.4 1573.6,1358.5" fill="#7f2a80" stroke="#7f2a80" stroke-width="4.0"/>
<polygon points="1620.1,1354.4 1627.3,1373.7 1648.0,1374.6 1631.8,1387.5 1637.3,1407.4 1620.1,1396.0 1602.9,1407.4 1608.4,1387.5 1592.2,1374.6 1612.9,1373.7" fill="none" stroke="#fff" stroke-opacity="0.3" stroke-width="6.0"/>
<polygon points="1620.1,1354.4 1627.3,1373.7 1648.0,1374.6 1631.8,1387.5 1637.3,1407.4 1620.1,1396.0 1602.9,1407.4 1608.4,1387.5 1592.2,1374.6 1612.9,1373.7" fill="#7f2a80" stroke="#7f2a80" stroke-width="4.0"/>
<polygon points="1659.3,1383.9 1666.6,1403.2 1687.2,1404.1 1671.0,1417.0 1676.5,1436.9 1659.3,1425.5 1642.1,1436.9 1647.6,1417.0 1631.5,1404.1 1652.1,1403.2" fill="none" stroke="#fff" stroke-opacity="0.3" stroke-width="6.0"/>
<polygon points="1659.3,1383.9 1666.6,1403.2 1687.2,1404.1 1671.0,1417.0 1676.5,1436.9 1659.3,1425.5 1642.1,1436.9 1647.6,1417.0 1631.5,1404.1 1652.1,1403.2" fill="#7f2a80" stroke="#7f2a80" stroke-width="4.0"/>
<polygon points="1698.5,1411.2 1705.8,1430.5 1726.4,1431.4 1710.2,1444.3 1715.8,1464.2 1698.5,1452.8 1681.3,1464.2 1686.8,1444.3 1670.7,1431.4 1691.3,1430.5" fill="none" stroke="#fff" stroke-opacity="0.3" stroke-width="6.0"/>
<polygon points="1698.5,1411.2 1705.8,1430.5 1726.4,1431.4 1710.2,1444.3 1715.8,1464.2 1698.5,1452.8 1681.3,1464.2 1686.8,1444.3 1670.7,1431.4 1691.3,1430.5" fill="#7f2a80" stroke="#7f2a80" stroke-width="4.0"/>
<polygon points="1737.8,1433.2 1745.0,1452.5 1765.6,1453.4 1749.5,1466.3 1755.0,1486.2 1737.8,1474.8 1720.5,1486.2 1726.1,1466.3 1709.9,1453.4 1730.5,1452.5" fill="none" stroke="#fff" stroke-opacity="0.3" stroke-width="6.0"/>
<polygon points="1737.8,1433.2 1745.0,1452.5 1765.6,1453.4 1749.5,1466.3 1755.0,1486.2 1737.8,1474.8 1720.5,1486.2 1726.1,1466.3 1709.9,1453.4 1730.5,1452.5" fill="#7f2a80" stroke="#7f2a80" stroke-width="4.0"/>
<polygon points="1777.0,1458.4 1784.2,1477.7 1804.8,1478.6 1788.7,1491.5 1794.2,1511.4 1777.0,1500.0 1759.8,1511.4 1765.3,1491.5 1749.1,1478.6 1769.7,1477.7" fill="none" stroke="#fff" stroke-opacity="0.3" stroke-width="6.0"/>
<polygon points="1777.0,1458.4 1784.2,1477.7 1804.8,1478.6 1788.7,1491.5 1794.2,1511.4 1777.0,1500.0 1759.8,1511.4 1765.3,1491.5 1749.1,1478.6 1769.7,1477.7" fill="#7f2a80" stroke="#7f2a80" stroke-width="4.0"/>
<polygon points="1816.2,1486.2 1823.4,1505.5 1844.1,1506.4 1827.9,1519.3 1833.4,1539.2 1816.2,1527.8 1799.0,1539.2 1804.5,1519.3 1788.3,1506.4 1809.0,1505.5" fill="none" stroke="#fff" stroke-opacity="0.3" stroke-width="6.0"/>
<polygon points="1816.2,1486.2 1823.4,1505.5 1844.1,1506.4 1827.9,1519.3 1833.4,1539.2 1816.2,1527.8 1799.0,1539.2 1804.5,1519.3 1788.3,1506.4 1809.0,1505.5" fill="#7f2a80" stroke="#7f2a80" stroke-width="4.0"/>
</g>
<ellipse cx="1366.2" cy="382.3" rx="25.5" ry="26.7" fill="#3a56a6"/>
<polygon points="1366.4,458.2 1396.2,488.0 1366.4,517.8 1336.6,488.0" fill="#6dbd45" stroke="#6dbd45" stroke-width="3.2" stroke-linejoin="round"/>
<polygon points="1366.2,566.4 1373.3,585.3 1393.4,586.2 1377.6,598.7 1383.0,618.1 1366.2,607.0 1349.4,618.1 1354.8,598.7 1339.0,586.2 1359.1,585.3" fill="#7f2a80" stroke="#7f2a80" stroke-width="3" stroke-linejoin="round"/>
<text class="lg" x="1416.5" y="398.3" font-size="53.8">CTAB-CA</text>
<text class="lg" x="1416.5" y="503.3" font-size="53.8">CTAB-MA</text>
<text class="lg" x="1413.5" y="607.3" font-size="53.8">CTAB</text>
<g transform="translate(265.9,1585.4) scale(0.970,1.035)"><text class="tk" font-size="110" x="-88.8 -30.5" y="0">10<tspan font-size="66" x="30.4" dy="-60.4">1</tspan></text><rect x="-86.59" y="-13.42" width="23.43" height="15.62" fill="#fff"/><rect x="-47.98" y="-13.42" width="22.00" height="15.62" fill="#fff"/><rect x="31.73" y="-69.32" width="14.06" height="11.13" fill="#fff"/><rect x="54.90" y="-69.32" width="13.20" height="11.13" fill="#fff"/></g>
<g transform="translate(265.9,1301.9) scale(0.970,1.035)"><text class="tk" font-size="110" x="-88.8 -30.5" y="0">10<tspan font-size="66" x="30.4" dy="-60.4">2</tspan></text><rect x="-86.59" y="-13.42" width="23.43" height="15.62" fill="#fff"/><rect x="-47.98" y="-13.42" width="22.00" height="15.62" fill="#fff"/></g>
<g transform="translate(265.9,1018.4) scale(0.970,1.035)"><text class="tk" font-size="110" x="-88.8 -30.5" y="0">10<tspan font-size="66" x="30.4" dy="-60.4">3</tspan></text><rect x="-86.59" y="-13.42" width="23.43" height="15.62" fill="#fff"/><rect x="-47.98" y="-13.42" width="22.00" height="15.62" fill="#fff"/></g>
<g transform="translate(265.9,734.9) scale(0.970,1.035)"><text class="tk" font-size="110" x="-88.8 -30.5" y="0">10<tspan font-size="66" x="30.4" dy="-60.4">4</tspan></text><rect x="-86.59" y="-13.42" width="23.43" height="15.62" fill="#fff"/><rect x="-47.98" y="-13.42" width="22.00" height="15.62" fill="#fff"/></g>
<g transform="translate(265.9,451.4) scale(0.970,1.035)"><text class="tk" font-size="110" x="-88.8 -30.5" y="0">10<tspan font-size="66" x="30.4" dy="-60.4">5</tspan></text><rect x="-86.59" y="-13.42" width="23.43" height="15.62" fill="#fff"/><rect x="-47.98" y="-13.42" width="22.00" height="15.62" fill="#fff"/></g>
<g transform="translate(265.9,167.9) scale(0.970,1.035)"><text class="tk" font-size="110" x="-88.8 -30.5" y="0">10<tspan font-size="66" x="30.4" dy="-60.4">6</tspan></text><rect x="-86.59" y="-13.42" width="23.43" height="15.62" fill="#fff"/><rect x="-47.98" y="-13.42" width="22.00" height="15.62" fill="#fff"/></g>
<g transform="translate(446.1,1744.6) scale(0.970,1.035)"><text class="tk" font-size="110" x="-88.8 -30.5" y="0">10<tspan font-size="66" x="29.4 53.9" dy="-60.4">-3</tspan></text><rect x="-86.59" y="-13.42" width="23.43" height="15.62" fill="#fff"/><rect x="-47.98" y="-13.42" width="22.00" height="15.62" fill="#fff"/></g>
<g transform="translate(720.6,1744.6) scale(0.970,1.035)"><text class="tk" font-size="110" x="-88.8 -30.5" y="0">10<tspan font-size="66" x="29.4 53.9" dy="-60.4">-2</tspan></text><rect x="-86.59" y="-13.42" width="23.43" height="15.62" fill="#fff"/><rect x="-47.98" y="-13.42" width="22.00" height="15.62" fill="#fff"/></g>
<g transform="translate(995.2,1744.6) scale(0.970,1.035)"><text class="tk" font-size="110" x="-88.8 -30.5" y="0">10<tspan font-size="66" x="29.4 53.9" dy="-60.4">-1</tspan></text><rect x="-86.59" y="-13.42" width="23.43" height="15.62" fill="#fff"/><rect x="-47.98" y="-13.42" width="22.00" height="15.62" fill="#fff"/><rect x="55.24" y="-69.32" width="14.06" height="11.13" fill="#fff"/><rect x="78.40" y="-69.32" width="13.20" height="11.13" fill="#fff"/></g>
<g transform="translate(1279.3,1744.6) scale(0.970,1.035)"><text class="tk" font-size="110" x="-88.8 -30.5" y="0">10<tspan font-size="66" x="30.4" dy="-60.4">0</tspan></text><rect x="-86.59" y="-13.42" width="23.43" height="15.62" fill="#fff"/><rect x="-47.98" y="-13.42" width="22.00" height="15.62" fill="#fff"/></g>
<g transform="translate(1553.9,1744.6) scale(0.970,1.035)"><text class="tk" font-size="110" x="-88.8 -30.5" y="0">10<tspan font-size="66" x="30.4" dy="-60.4">1</tspan></text><rect x="-86.59" y="-13.42" width="23.43" height="15.62" fill="#fff"/><rect x="-47.98" y="-13.42" width="22.00" height="15.62" fill="#fff"/><rect x="31.73" y="-69.32" width="14.06" height="11.13" fill="#fff"/><rect x="54.90" y="-69.32" width="13.20" height="11.13" fill="#fff"/></g>
<g transform="translate(1828.4,1744.6) scale(0.970,1.035)"><text class="tk" font-size="110" x="-88.8 -30.5" y="0">10<tspan font-size="66" x="30.4" dy="-60.4">2</tspan></text><rect x="-86.59" y="-13.42" width="23.43" height="15.62" fill="#fff"/><rect x="-47.98" y="-13.42" width="22.00" height="15.62" fill="#fff"/></g>
<text class="tk" transform="translate(123.0,1090.1) rotate(-90) scale(0.990,1)" font-size="109"><tspan class="it" font-size="104" x="0" dy="1">&#951;</tspan><tspan x="60.0 82.0 118.3 218.8 290.4" dy="-1"> (mPa</tspan><tspan class="dt" font-size="104" x="355.9" dy="-5.6">&#183;</tspan><tspan x="388.1 453.6" dy="5.6">s)</tspan></text>
<text class="gm" transform="translate(970.8,1909.8) scale(0.814,1)" font-size="112.8" stroke-width="4.5">&#947;<tspan class="dt" font-size="128" stroke="none" x="40.7" y="5.7">&#729;</tspan></text>
<g transform="translate(1077.3,1898.8) scale(0.990,1)"><text class="tk" font-size="109" x="0" y="0">(s<tspan font-size="68" x="94.9 118.9" dy="-59.5">-1</tspan><tspan x="156.6" dy="59.5">)</tspan></text><rect x="120.29" y="-68.64" width="14.48" height="11.34" fill="#fff"/><rect x="144.16" y="-68.64" width="13.60" height="11.34" fill="#fff"/></g>
</g>
</svg>
</body></html>
